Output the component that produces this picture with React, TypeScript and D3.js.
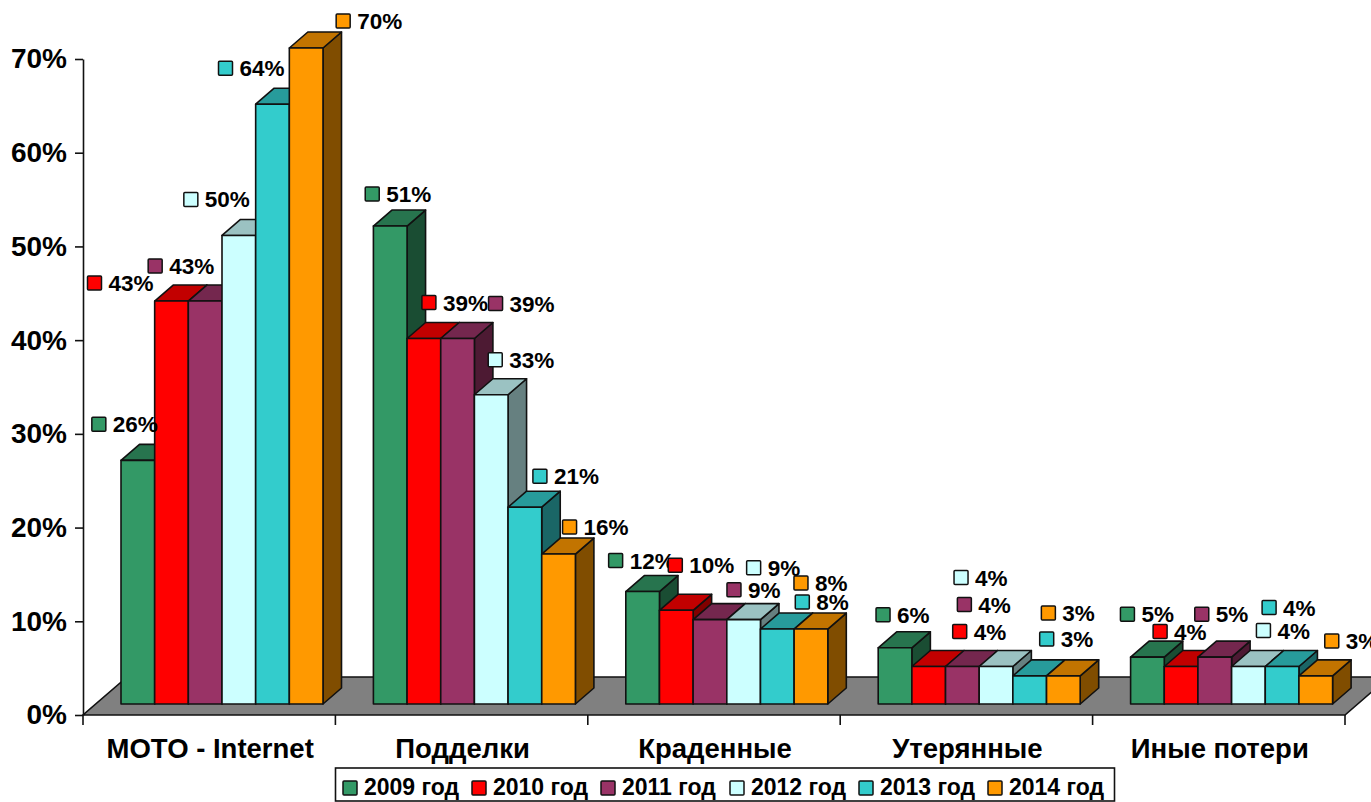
import React, { useRef, useEffect } from 'react';
import * as d3 from 'd3';

const categories = ['MOTO - Internet', 'Подделки', 'Краденные', 'Утерянные', 'Иные потери'];
const years = ['2009 год', '2010 год', '2011 год', '2012 год', '2013 год', '2014 год'];
const colors = ['#339966', '#ff0000', '#993366', '#ccffff', '#33cccc', '#ff9900'];
const yTicks = [0, 10, 20, 30, 40, 50, 60, 70];

// one row per category, one column per year
const motoValues = [26, 43, 43, 50, 64, 70];
const fakeValues = [51, 39, 39, 33, 21, 16];
const stolenValues = [12, 10, 9, 9, 8, 8];
const lostValues = [6, 4, 4, 4, 3, 3];
const otherValues = [5, 4, 5, 4, 4, 3];
const values = [motoValues, fakeValues, stolenValues, lostValues, otherValues];

// hand placed labels, marker offset from the top centre of each bar
const labelNudges = [
  [[-39, -36], [-77, -18], [-50, -35], [-48, -36], [-47, -36], [37, -27]],
  [[-18, -32], [5, -36], [38, -35], [4, -35], [15, -31], [11, -27]],
  [[-27, -31], [-1, -45], [24, -30], [10, -52], [25, -27], [-10, -46]],
  [[-12, -33], [31, -35], [2, -62], [-35, -89], [17, -37], [-15, -63]],
  [[-20, -43], [-21, -35], [-13, -43], [15, -36], [-13, -59], [16, -35]],
];

const FONT = '"Liberation Sans", Arial, sans-serif';
const STROKE = '#111';

const shade = (c: string, k: number) => {
  const r = d3.rgb(c);
  return d3.rgb(r.r * k, r.g * k, r.b * k).formatHex();
};

const App: React.FC = () => {
  const svgRef = useRef<SVGSVGElement>(null);

  useEffect(() => {
    if (!svgRef.current) return;
    const svg = d3.select(svgRef.current);
    svg.selectAll('*').remove();

    const left = 83;
    const right = 1345;
    const y0 = 715;
    const yTop = 59;

    // chart box depth: floor is pushed back, bars sit inset on it
    const floorDx = 44;
    const floorDy = 38;
    const barLift = 11;
    const depthX = 18.5;
    const depthY = 16;

    const yScale = d3.scaleLinear().domain([0, 70]).range([y0, yTop]);
    const xScale = d3.scaleBand<string>().domain(categories).range([left, right]);
    const barScale = d3.scaleBand<string>().domain(years).range([38, 240]);
    const barY = (v: number) => yScale(v) - barLift;
    const baseY = barY(0);

    // Floor
    svg.append('path')
      .attr('d', `M${left},${y0}L${right},${y0}L${right + floorDx},${y0 - floorDy}L${left + floorDx},${y0 - floorDy}Z`)
      .attr('fill', '#808080')
      .attr('stroke', STROKE)
      .attr('stroke-width', 1.6);

    // Axes
    const yAxis = svg.append('g')
      .attr('transform', `translate(${left},0)`)
      .call(d3.axisLeft(yScale).tickValues(yTicks).tickSize(8).tickSizeOuter(0).tickFormat(d => `${d}%`));
    yAxis.select('.domain').attr('stroke', STROKE).attr('stroke-width', 1.6);
    yAxis.selectAll('.tick line').attr('stroke', STROKE).attr('stroke-width', 1.6);
    yAxis.selectAll('.tick text')
      .attr('x', -16)
      .attr('font-family', FONT)
      .attr('font-size', 28)
      .attr('font-weight', 700)
      .attr('fill', '#000');

    svg.append('line')
      .attr('x1', left).attr('x2', left)
      .attr('y1', y0).attr('y2', y0 + 10)
      .attr('stroke', STROKE).attr('stroke-width', 1.6);

    categories.forEach((c, i) => {
      const x = xScale(c)!;
      const bw = xScale.bandwidth();
      svg.append('line')
        .attr('x1', x + bw).attr('x2', x + bw)
        .attr('y1', y0).attr('y2', y0 + 10)
        .attr('stroke', STROKE).attr('stroke-width', 1.6);
      svg.append('text')
        .attr('x', x + bw / 2 + 1)
        .attr('y', 758)
        .attr('text-anchor', 'middle')
        .attr('font-family', FONT)
        .attr('font-size', 27.5)
        .attr('font-weight', 700)
        .attr('fill', '#000')
        .text(c);

      // Bars
      years.forEach((yr, j) => {
        const v = values[i][j];
        const bx = x + barScale(yr)!;
        const w = barScale.bandwidth();
        const ty = barY(v);
        const g = svg.append('g')
          .attr('stroke', STROKE)
          .attr('stroke-width', 1.6)
          .attr('stroke-linejoin', 'round');
        g.append('path')
          .attr('d', `M${bx + w},${ty}L${bx + w + depthX},${ty - depthY}L${bx + w + depthX},${baseY - depthY}L${bx + w},${baseY}Z`)
          .attr('fill', shade(colors[j], 0.5));
        g.append('path')
          .attr('d', `M${bx},${ty}L${bx + depthX},${ty - depthY}L${bx + w + depthX},${ty - depthY}L${bx + w},${ty}Z`)
          .attr('fill', shade(colors[j], 0.76));
        g.append('rect')
          .attr('x', bx).attr('y', ty)
          .attr('width', w).attr('height', baseY - ty)
          .attr('fill', colors[j]);
      });
    });

    // Data labels go on top of every bar
    categories.forEach((c, i) => {
      years.forEach((yr, j) => {
        const cx = xScale(c)! + barScale(yr)! + barScale.bandwidth() / 2 + labelNudges[i][j][0];
        const cy = barY(values[i][j]) + labelNudges[i][j][1];
        svg.append('rect')
          .attr('x', cx - 7).attr('y', cy - 7)
          .attr('width', 14).attr('height', 14)
          .attr('rx', 1)
          .attr('fill', colors[j])
          .attr('stroke', STROKE)
          .attr('stroke-width', 1.5);
        svg.append('text')
          .attr('x', cx + 14)
          .attr('y', cy + 8)
          .attr('font-family', FONT)
          .attr('font-size', 22.5)
          .attr('font-weight', 700)
          .attr('fill', '#000')
          .text(`${values[i][j]}%`);
      });
    });

    // Legend
    const legend = svg.append('g');
    legend.append('rect')
      .attr('x', 335.5).attr('y', 768)
      .attr('width', 779).attr('height', 33)
      .attr('fill', '#fff')
      .attr('stroke', STROKE)
      .attr('stroke-width', 1.6);
    const legendX = d3.scalePoint<string>().domain(years).range([350, 995]);
    years.forEach((yr, j) => {
      const lx = legendX(yr)!;
      legend.append('rect')
        .attr('x', lx - 7).attr('y', 781)
        .attr('width', 14).attr('height', 14)
        .attr('rx', 1)
        .attr('fill', colors[j])
        .attr('stroke', STROKE)
        .attr('stroke-width', 1.5);
      legend.append('text')
        .attr('x', lx + 14)
        .attr('y', 795)
        .attr('font-family', FONT)
        .attr('font-size', 23)
        .attr('font-weight', 700)
        .attr('fill', '#000')
        .text(yr);
    });
  }, []);

  return <svg ref={svgRef} width={1371} height={802} style={{ position: 'absolute', left: 0, top: 0, display: 'block' }} />;
};

export default App;
